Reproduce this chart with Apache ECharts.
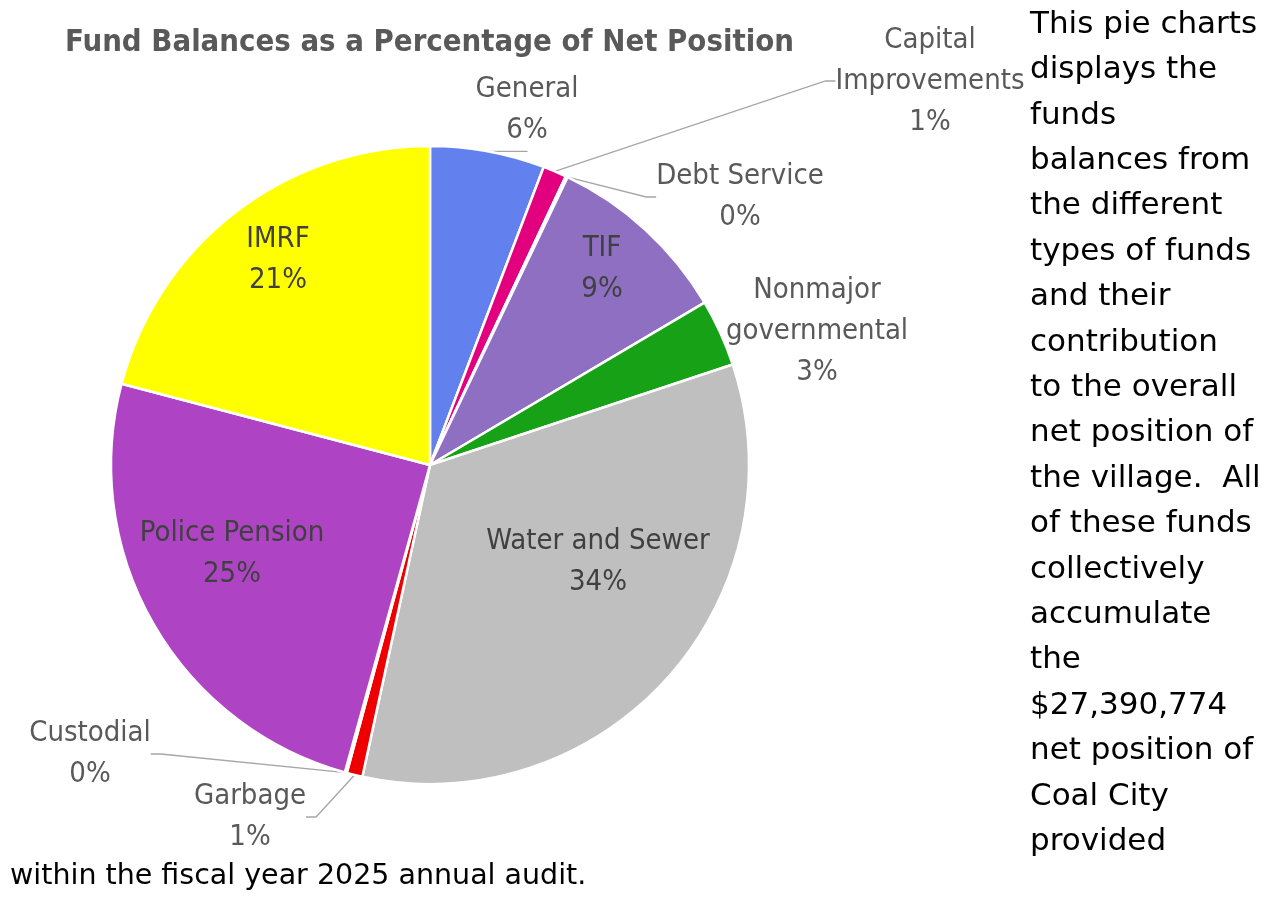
<!DOCTYPE html>
<html>
<head>
<meta charset="utf-8">
<script src="https://cdn.jsdelivr.net/npm/echarts@6/dist/echarts.min.js"></script>
<style>
html,body{margin:0;padding:0;background:#fff;}
#main{width:1272px;height:898px;}
</style>
</head>
<body>
<div id="main"></div>
<script>
// ---- data ----
const chartTitle = 'Fund Balances as a Percentage of Net Position';
const categories = ['General', 'Capital Improvements', 'Debt Service', 'TIF', 'Nonmajor governmental',
  'Water and Sewer', 'Garbage', 'Custodial', 'Police Pension', 'IMRF'];
const labelNames = ['General', 'Capital\nImprovements', 'Debt Service', 'TIF', 'Nonmajor\ngovernmental',
  'Water and Sewer', 'Garbage', 'Custodial', 'Police Pension', 'IMRF'];
const percentValues = [5.8, 1.2, 0.1, 9.4, 3.4, 33.5, 0.8, 0.1, 24.8, 20.9];
const sideText = ['This pie charts', 'displays the', 'funds', 'balances from', 'the different',
  'types of funds', 'and their', 'contribution', 'to the overall', 'net position of',
  'the village.  All', 'of these funds', 'collectively', 'accumulate', 'the',
  '$27,390,774', 'net position of', 'Coal City', 'provided'];
const bottomText = 'within the fiscal year 2025 annual audit.';

// ---- styling / layout (not data) ----
const colors = ['#6281EE', '#E3007F', '#E0201E', '#8E6FC2', '#16A116', '#BFBFBF', '#EE0000', '#D02020', '#AE44C4', '#FFFF00'];
const insideLabel = [false, false, false, true, false, true, false, false, true, true];
const showLeader = [true, true, true, false, false, false, true, true, false, false];
const labelCenters = [[527, 110], [930, 81], [740, 197], [602, 269], [817, 331],
  [598, 562], [250, 817], [90, 754], [232, 554], [278, 260]];

const chart = echarts.init(document.getElementById('main'), null, {renderer: 'canvas'});

const data = categories.map((c, i) => ({
  name: c,
  value: percentValues[i],
  itemStyle: {color: colors[i]},
  label: {color: insideLabel[i] ? '#404040' : '#595959'},
  labelLine: {show: showLeader[i]}
}));

const condensed = "'Liberation Sans Narrow', 'DejaVu Sans Condensed', sans-serif";

const option = {
  animation: false,
  title: {
    text: chartTitle,
    left: 60,
    top: 22,
    textStyle: {
      fontFamily: condensed,
      fontWeight: 'bold',
      fontSize: 30.8,
      color: '#595959'
    }
  },
  series: [{
    type: 'pie',
    center: [430, 465],
    radius: 319,
    startAngle: 90,
    clockwise: true,
    avoidLabelOverlap: false,
    percentPrecision: 0,
    itemStyle: {borderColor: '#ffffff', borderWidth: 2.5},
    label: {
      show: true,
      position: 'outside',
      formatter: p => labelNames[p.dataIndex] + '\n' + p.percent + '%',
      fontFamily: condensed,
      fontSize: 29,
      lineHeight: 41,
      align: 'center'
    },
    labelLine: {
      show: true,
      length: 10,
      length2: 10,
      lineStyle: {color: '#A6A6A6', width: 1.3}
    },
    labelLayout: function (p) {
      const c = labelCenters[p.dataIndex];
      return {x: c[0], y: c[1], align: 'center', verticalAlign: 'middle'};
    },
    data: data
  }],
  graphic: [
    {
      type: 'text',
      left: 1030,
      top: 2,
      style: {
        text: sideText.join('\n'),
        fontFamily: "'DejaVu Sans', sans-serif",
        fontSize: 31,
        lineHeight: 45.4,
        fill: '#000000'
      }
    },
    {
      type: 'text',
      left: 10,
      top: 857,
      style: {
        text: bottomText,
        fontFamily: "'DejaVu Sans', sans-serif",
        fontSize: 28.5,
        lineHeight: 40,
        fill: '#000000'
      }
    }
  ]
};
chart.setOption(option);
</script>
</body>
</html>
